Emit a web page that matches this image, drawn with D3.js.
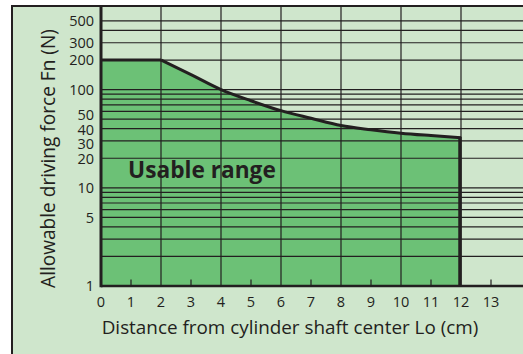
<!DOCTYPE html>
<html>
<head>
<meta charset="utf-8">
<script src="https://cdn.jsdelivr.net/npm/d3@7"></script>
<style>
  html, body { margin: 0; padding: 0; background: #ffffff; }
  svg { display: block; }
  text { font-family: "Open Sans", "Noto Sans", sans-serif; fill: #231f20; }
</style>
</head>
<body>
<svg id="chart" width="523" height="354"></svg>
<script>
// Allowable driving force versus distance from the cylinder shaft center
const distances = [0, 2, 3, 4, 5, 6, 7, 8, 9, 10, 11, 12];
const forces    = [200, 200, 142, 100, 77, 61, 51, 43, 39, 36, 34, 32.3];

const xTickValues  = [0, 1, 2, 3, 4, 5, 6, 7, 8, 9, 10, 11, 12, 13];
const xMinorTicks  = [1, 3, 5, 7, 9, 11, 13];
const xGridValues  = [2, 4, 6, 8, 10, 12];
const yTickValues  = [1, 5, 10, 20, 30, 40, 50, 100, 200, 300, 500];
const yGridValues  = [2, 3, 4, 5, 6, 7, 8, 9, 10, 20, 30, 40, 50, 60, 70, 80, 90, 100, 200, 300, 400, 500];

const xTitle = "Distance from cylinder shaft center Lo (cm)";
const yTitle = "Allowable driving force Fn (N)";
const regionLabel = "Usable range";

const INK = "#231f20";
const BG = "#cfe6cc";
const FILL = "#6cc176";

const svg = d3.select("#chart");
const W = 523, H = 354;

const x = d3.scaleLinear().domain([0, 14.1]).range([101, 524]);
const y = d3.scaleLog().domain([1, 710]).range([286, 6]);

// panel background and frame
svg.append("rect")
  .attr("x", 12).attr("y", 6).attr("width", W + 20).attr("height", H + 20)
  .attr("fill", BG).attr("stroke", INK).attr("stroke-width", 2);

const pts = distances.map((d, i) => ({ d, f: forces[i] }));
const flat = pts.slice(0, 2);
const slope = pts.slice(1);

// usable region
const areaFlat = d3.area().x(p => x(p.d)).y0(y(1)).y1(p => y(p.f));
const areaCurve = d3.area().curve(d3.curveMonotoneX).x(p => x(p.d)).y0(y(1)).y1(p => y(p.f));
svg.append("path").attr("d", areaFlat(flat)).attr("fill", FILL);
svg.append("path").attr("d", areaCurve(slope)).attr("fill", FILL);

// grid
const grid = svg.append("g").attr("stroke", INK).attr("stroke-width", 1.2);
grid.selectAll("line.h").data(yGridValues).join("line")
  .attr("class", "h")
  .attr("x1", x(0)).attr("x2", W)
  .attr("y1", v => y(v)).attr("y2", v => y(v));
grid.selectAll("line.v").data(xGridValues).join("line")
  .attr("class", "v")
  .attr("x1", v => x(v)).attr("x2", v => x(v))
  .attr("y1", y(1)).attr("y2", 6);

// boundary of usable region
const lineFlat = d3.line().x(p => x(p.d)).y(p => y(p.f));
const lineCurve = d3.line().curve(d3.curveMonotoneX).x(p => x(p.d)).y(p => y(p.f));
svg.append("path").attr("d", lineFlat(flat)).attr("fill", "none")
  .attr("stroke", INK).attr("stroke-width", 3);
svg.append("path").attr("d", lineCurve(slope)).attr("fill", "none")
  .attr("stroke", INK).attr("stroke-width", 3);
const last = pts[pts.length - 1];
svg.append("line")
  .attr("x1", x(last.d) - 1).attr("x2", x(last.d) - 1)
  .attr("y1", y(last.f) - 1).attr("y2", y(1))
  .attr("stroke", INK).attr("stroke-width", 3.5);

// axes lines
svg.append("line").attr("x1", x(0)).attr("x2", W).attr("y1", y(1)).attr("y2", y(1))
  .attr("stroke", INK).attr("stroke-width", 2.5);
svg.append("line").attr("x1", x(0)).attr("x2", x(0)).attr("y1", y(1) + 1.2).attr("y2", 6)
  .attr("stroke", INK).attr("stroke-width", 3);

// minor ticks
svg.append("g").selectAll("line").data(xMinorTicks).join("line")
  .attr("x1", v => x(v)).attr("x2", v => x(v))
  .attr("y1", y(1)).attr("y2", y(1) - 6.5)
  .attr("stroke", INK).attr("stroke-width", 1.2);

// tick labels
svg.append("g").selectAll("text").data(xTickValues).join("text")
  .attr("x", v => x(v)).attr("y", 307)
  .attr("text-anchor", "middle").attr("font-size", 14.5)
  .text(v => v);

// y labels: spread crowded labels apart so they do not collide
const minGap = 14.5;
const yLab = yTickValues.map(v => ({ v, pos: y(v) })).sort((a, b) => a.pos - b.pos);
for (let iter = 0; iter < 200; iter++) {
  let moved = false;
  for (let i = 1; i < yLab.length; i++) {
    const gap = yLab[i].pos - yLab[i - 1].pos;
    if (gap < minGap - 0.01) {
      const push = (minGap - gap) / 2;
      yLab[i - 1].pos -= push;
      yLab[i].pos += push;
      moved = true;
    }
  }
  if (!moved) break;
}
svg.append("g").selectAll("text").data(yLab).join("text")
  .attr("x", 94).attr("y", l => l.pos + 5.3)
  .attr("text-anchor", "end").attr("font-size", 14.5)
  .text(l => l.v);

// fit text to a target width
function fit(sel, target) {
  const w = sel.node().getComputedTextLength();
  const fs = parseFloat(sel.attr("font-size"));
  sel.attr("font-size", fs * target / w);
}

const xt = svg.append("text")
  .attr("x", 290).attr("y", 334).attr("text-anchor", "middle")
  .attr("font-size", 17).text(xTitle);
fit(xt, 377);

const yt = svg.append("text")
  .attr("transform", "translate(55,158.5) rotate(-90)")
  .attr("text-anchor", "middle").attr("font-size", 17).text(yTitle);
fit(yt, 259);

const rl = svg.append("text")
  .attr("x", 128).attr("y", 178.3)
  .attr("font-size", 21).attr("font-weight", "bold").text(regionLabel);
fit(rl, 148);
</script>
</body>
</html>
